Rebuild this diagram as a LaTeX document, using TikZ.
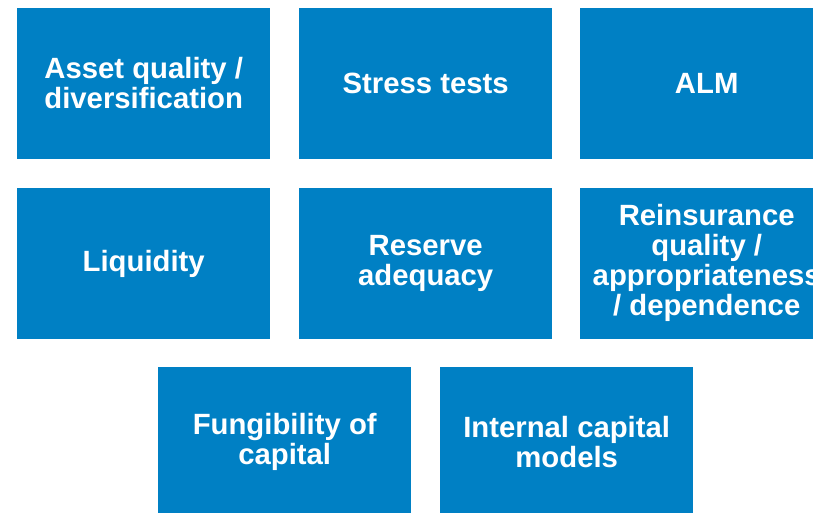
\documentclass[tikz,border=0pt]{standalone}
\usepackage{fontspec}
\setmainfont{Liberation Sans}
\definecolor{tileblue}{HTML}{0080C4}
\begin{document}
\begin{tikzpicture}[x=1pt,y=-1pt,
  tile/.style={fill=tileblue, draw=none, minimum width=253pt, minimum height=151pt,
    inner sep=0pt, anchor=north west},
  tiletext/.style={text=white, font=\fontsize{29.3}{30}\selectfont\bfseries, align=center}]
  \useasboundingbox (0,0) rectangle (813,512);
  % row 1
  \node[tile] (b1) at (17,8) {};
  \node[tile] (b2) at (299,8) {};
  \node[tile] (b3) at (580,8) {};
  % row 2
  \node[tile] (b4) at (17,188) {};
  \node[tile] (b5) at (299,188) {};
  \node[tile] (b6) at (580,188) {};
  % row 3
  \node[tile] (b7) at (158,367) {};
  \node[tile] (b8) at (440,367) {};
  % labels
  \node[tiletext] (t1) at ([yshift=1pt]b1.center) {Asset quality /\\diversification};
  \node[tiletext] (t2) at (b2.center) {Stress tests};
  \node[tiletext] (t3) at (b3.center) {ALM};
  \node[tiletext] (t4) at (b4.center) {Liquidity};
  \node[tiletext] (t5) at (b5.center) {Reserve\\adequacy};
  \node[tiletext] (t6) at ([yshift=1pt]b6.center) {Reinsurance\\quality /\\appropriateness\\/ dependence};
  \node[tiletext] (t7) at ([yshift=1pt]b7.center) {Fungibility of\\capital};
  \node[tiletext] (t8) at ([yshift=1pt]b8.center) {Internal capital\\models};
\end{tikzpicture}
\end{document}
